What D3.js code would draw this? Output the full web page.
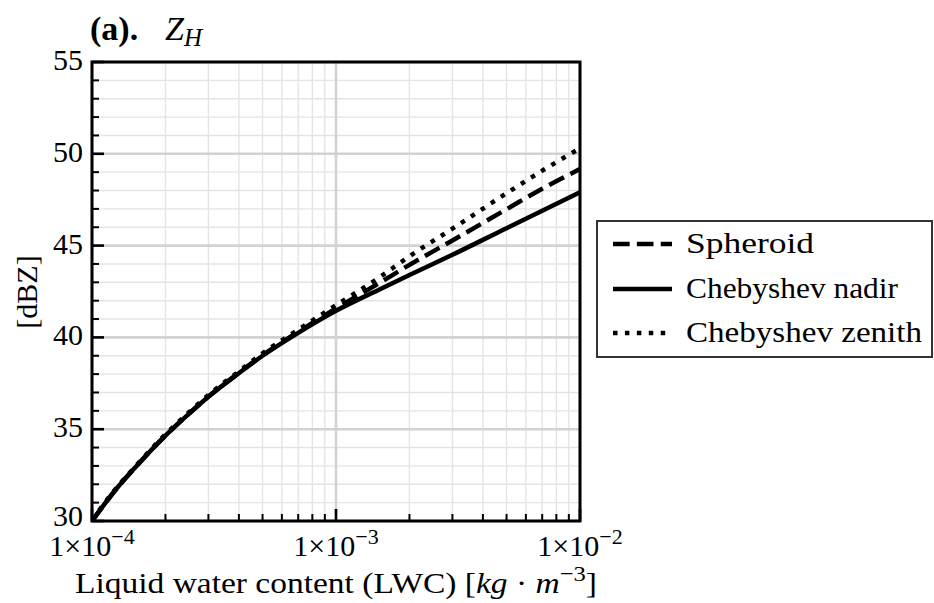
<!DOCTYPE html>
<html>
<head>
<meta charset="utf-8">
<script src="https://cdn.jsdelivr.net/npm/d3@7"></script>
<style>
  html, body { margin: 0; padding: 0; background: #fff; }
  svg { display: block; }
  text { font-family: "Liberation Serif", "Times New Roman", serif; fill: #000; }
</style>
</head>
<body>
<svg id="chart" width="934" height="603"></svg>
<script>
// ---- Data ----
const lwc = [1e-4, 1.25e-4, 1.5e-4, 2e-4, 2.5e-4, 3e-4, 4e-4, 5e-4, 7e-4, 1e-3, 1.5e-3, 2e-3, 3e-3, 5e-3, 7e-3, 1e-2];
const spheroid   = [30.0, 31.7, 32.9, 34.65, 35.85, 36.78, 38.07, 39.03, 40.3, 41.58, 42.95, 43.95, 45.28, 46.98, 48.1, 49.17];
const chebNadir  = [30.0, 31.7, 32.9, 34.65, 35.85, 36.77, 38.05, 39.0, 40.25, 41.45, 42.6, 43.4, 44.5, 45.95, 46.9, 47.9];
const chebZenith = [30.05, 31.75, 32.95, 34.72, 35.93, 36.86, 38.15, 39.13, 40.42, 41.75, 43.25, 44.42, 45.92, 47.85, 49.08, 50.3];
const seriesNames = ["Spheroid", "Chebyshev nadir", "Chebyshev zenith"];
const yMajorTicks = [30, 35, 40, 45, 50, 55];
const xMajorTicks = [1e-4, 1e-3, 1e-2];
const xTickExponents = ["−4", "−3", "−2"];

// ---- Layout ----
const svg = d3.select("#chart");
const L = 92, R = 580, T = 62, B = 521;
const x = d3.scaleLog().domain([1e-4, 1e-2]).range([L, R]);
const y = d3.scaleLinear().domain([30, 55]).range([B, T]);

const xMinor = [];
[1e-4, 1e-3].forEach(d => { for (let k = 2; k <= 9; k++) xMinor.push(d * k); });
const yMinor = d3.range(30, 56, 1).filter(v => v % 5 !== 0);

// ---- Grid ----
const grid = svg.append("g");
grid.selectAll(".gxm").data(xMinor).join("line")
  .attr("x1", d => x(d)).attr("x2", d => x(d)).attr("y1", T).attr("y2", B)
  .attr("stroke", "#e4e4e4").attr("stroke-width", 1.4);
grid.selectAll(".gym").data(yMinor).join("line")
  .attr("x1", L).attr("x2", R).attr("y1", d => y(d)).attr("y2", d => y(d))
  .attr("stroke", "#e4e4e4").attr("stroke-width", 1.4);
grid.selectAll(".gxM").data(xMajorTicks).join("line")
  .attr("x1", d => x(d)).attr("x2", d => x(d)).attr("y1", T).attr("y2", B)
  .attr("stroke", "#d2d2d2").attr("stroke-width", 2.6);
grid.selectAll(".gyM").data(yMajorTicks).join("line")
  .attr("x1", L).attr("x2", R).attr("y1", d => y(d)).attr("y2", d => y(d))
  .attr("stroke", "#d2d2d2").attr("stroke-width", 2.6);

// ---- Curves ----
svg.append("clipPath").attr("id", "clip").append("rect")
  .attr("x", L).attr("y", T).attr("width", R - L).attr("height", B - T);
const lw = 4.5;
const styles = [
  { dash: `${3.7*lw},${1.6*lw}` },
  { dash: null },
  { dash: `${1*lw},${1.65*lw}` }
];
const allSeries = [spheroid, chebNadir, chebZenith];
const line = d3.line().x((d, i) => x(lwc[i])).y(d => y(d)).curve(d3.curveMonotoneX);
const curves = svg.append("g").attr("clip-path", "url(#clip)");
allSeries.forEach((s, i) => {
  curves.append("path").datum(s).attr("d", line)
    .attr("fill", "none").attr("stroke", "#000").attr("stroke-width", lw)
    .attr("stroke-dasharray", styles[i].dash);
});

// ---- Ticks (inward) ----
const axes = svg.append("g");
axes.selectAll(".ytM").data(yMajorTicks).join("line")
  .attr("x1", L).attr("x2", L + 12).attr("y1", d => y(d)).attr("y2", d => y(d))
  .attr("stroke", "#000").attr("stroke-width", 2.6);
axes.selectAll(".ytm").data(yMinor).join("line")
  .attr("x1", L).attr("x2", L + 7).attr("y1", d => y(d)).attr("y2", d => y(d))
  .attr("stroke", "#000").attr("stroke-width", 2);
axes.selectAll(".xtM").data(xMajorTicks).join("line")
  .attr("x1", d => x(d)).attr("x2", d => x(d)).attr("y1", B).attr("y2", B - 12)
  .attr("stroke", "#000").attr("stroke-width", 2.6);
axes.selectAll(".xtm").data(xMinor).join("line")
  .attr("x1", d => x(d)).attr("x2", d => x(d)).attr("y1", B).attr("y2", B - 7)
  .attr("stroke", "#000").attr("stroke-width", 2);

// frame
svg.append("rect").attr("x", L).attr("y", T).attr("width", R - L).attr("height", B - T)
  .attr("fill", "none").attr("stroke", "#000").attr("stroke-width", 3);

// ---- Tick labels ----
const fs = 30;
svg.selectAll(".ylab").data(yMajorTicks).join("text")
  .attr("x", 83).attr("y", d => y(d) + (d === 30 ? 5 : 8))
  .attr("text-anchor", "end").attr("font-size", fs)
  .text(d => d);

const xl = svg.selectAll(".xlab").data(xMajorTicks).join("text")
  .attr("x", d => x(d)).attr("y", 556)
  .attr("text-anchor", "middle").attr("font-size", fs);
xl.append("tspan").text("1×10");
xl.append("tspan").attr("dy", -12).attr("font-size", 22).text((d, i) => xTickExponents[i]);

// ---- Axis titles ----
const xt = svg.append("text").attr("x", 336).attr("y", 593)
  .attr("text-anchor", "middle").attr("font-size", fs)
  .attr("textLength", 522).attr("lengthAdjust", "spacingAndGlyphs");
xt.append("tspan").text("Liquid water content (LWC) [");
xt.append("tspan").attr("font-style", "italic").text("kg");
xt.append("tspan").text(" · ");
xt.append("tspan").attr("font-style", "italic").text("m");
xt.append("tspan").attr("dy", -12).attr("font-size", 22).text("−3");
xt.append("tspan").attr("dy", 12).text("]");

svg.append("text").attr("transform", "translate(37,292) rotate(-90)")
  .attr("text-anchor", "middle").attr("font-size", fs).text("[dBZ]");

// ---- Title ----
const title = svg.append("text").attr("x", 90).attr("y", 40).attr("font-size", 34);
title.append("tspan").attr("font-weight", "bold").text("(a).");
title.append("tspan").attr("x", 165).attr("font-style", "italic").text("Z");
title.append("tspan").attr("dy", 6).attr("font-size", 25).attr("font-style", "italic").text("H");

// ---- Legend ----
const lg = svg.append("g");
lg.append("rect").attr("x", 597).attr("y", 221).attr("width", 335).attr("height", 136)
  .attr("fill", "#fff").attr("stroke", "#333").attr("stroke-width", 2);
const legendY = [244, 289, 333];
const legendW = [128, 212, 236];
seriesNames.forEach((name, i) => {
  lg.append("line").attr("x1", 613).attr("x2", 672)
    .attr("y1", legendY[i]).attr("y2", legendY[i])
    .attr("stroke", "#000").attr("stroke-width", lw)
    .attr("stroke-dasharray", styles[i].dash);
  lg.append("text").attr("x", 686).attr("y", legendY[i] + 9)
    .attr("font-size", fs).attr("textLength", legendW[i]).attr("lengthAdjust", "spacingAndGlyphs")
    .text(name);
});
</script>
</body>
</html>
